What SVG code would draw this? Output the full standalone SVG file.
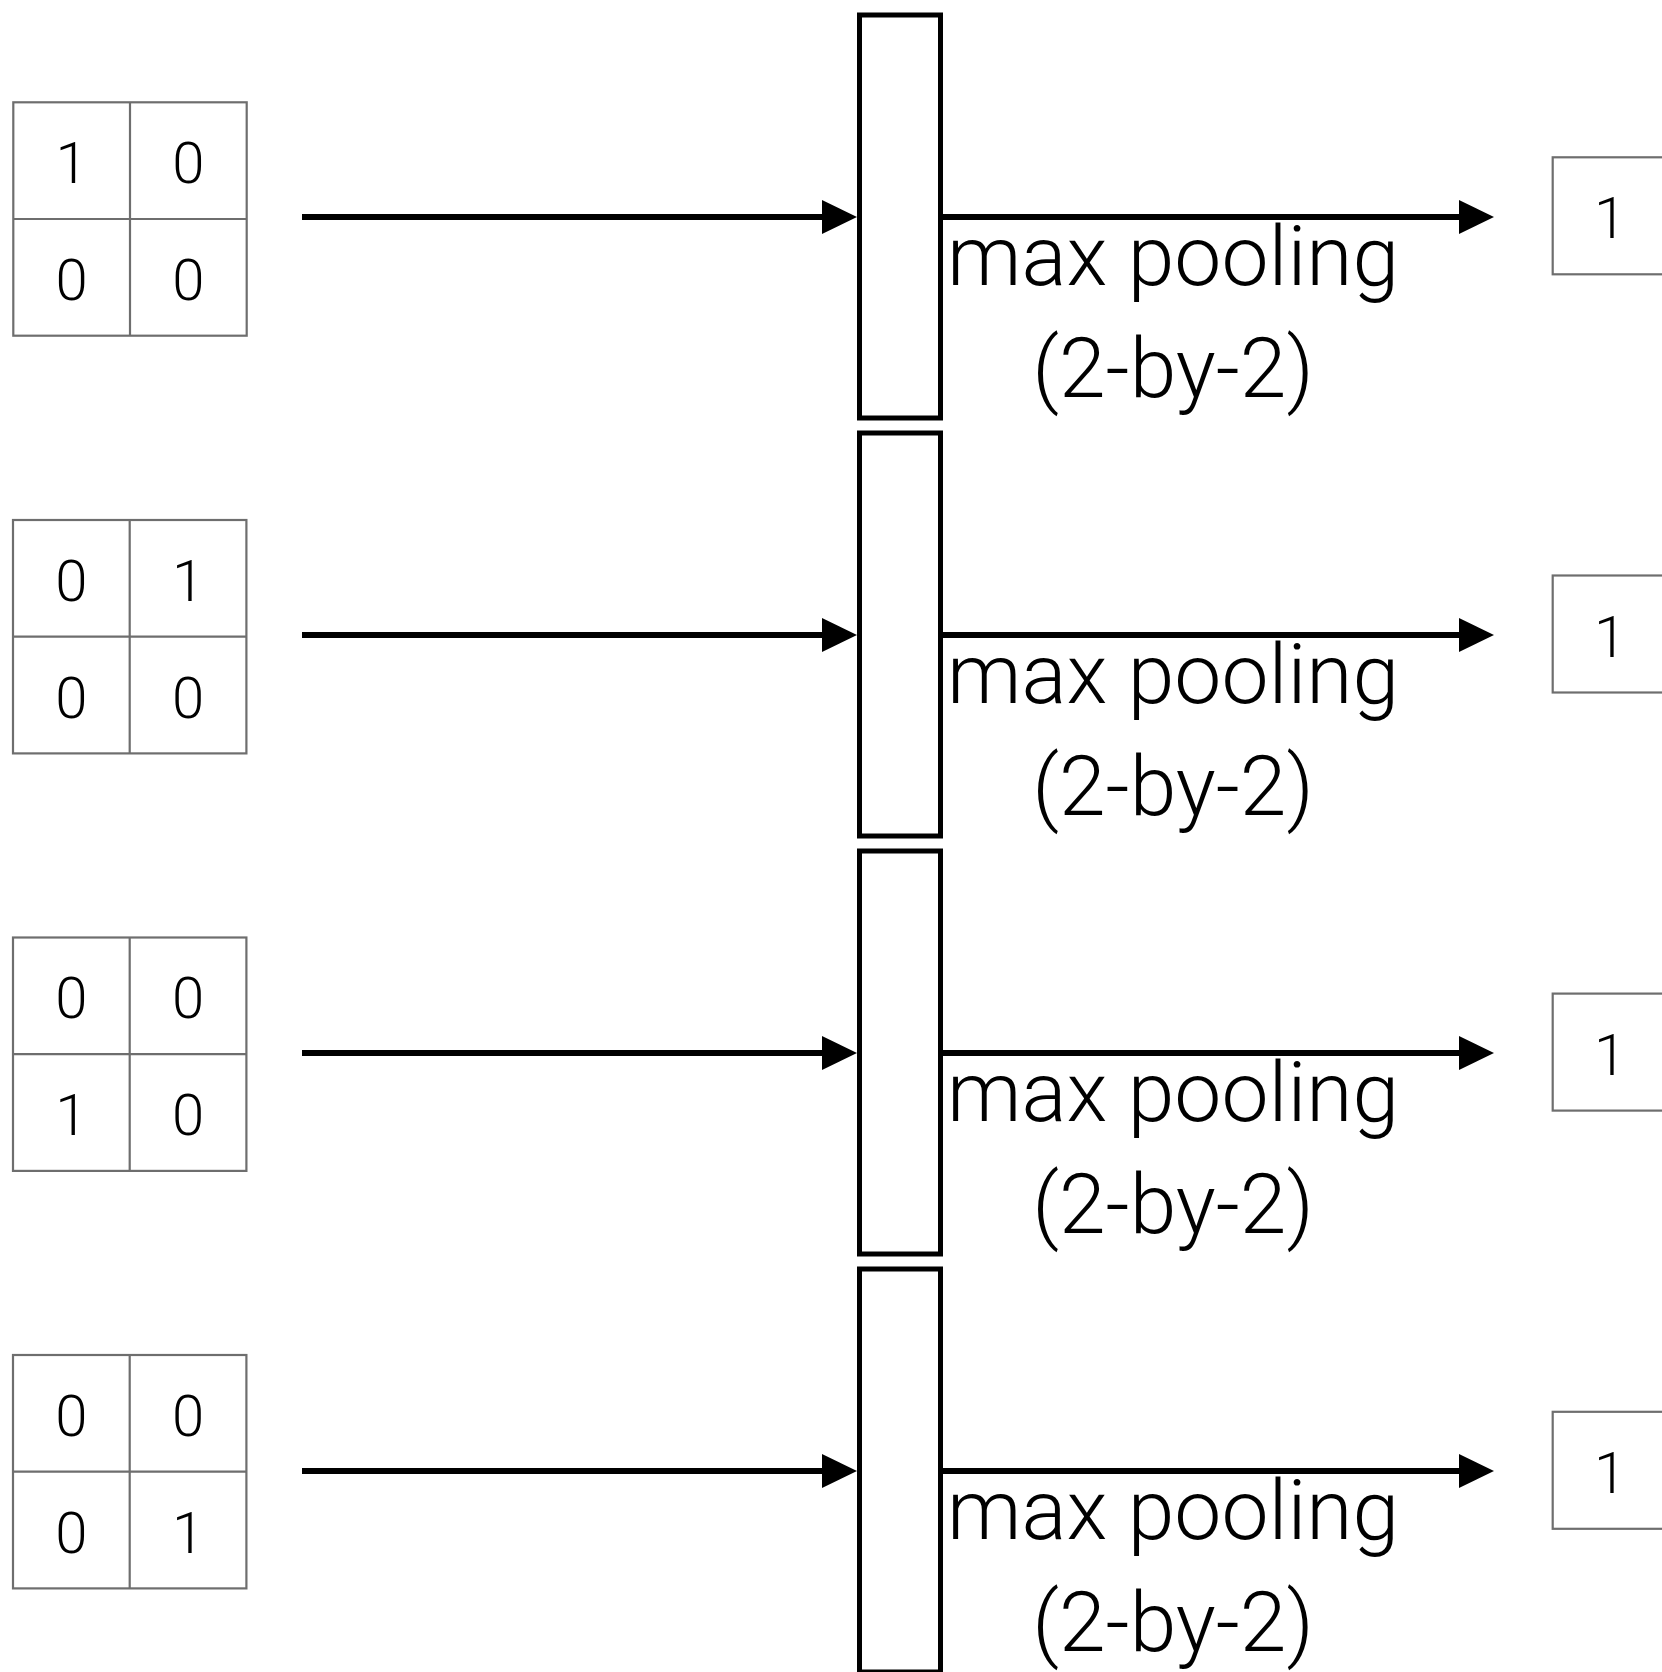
<svg xmlns="http://www.w3.org/2000/svg" width="1662" height="1672" viewBox="0 0 1662 1672">
<style>
.cell{fill:#ffffff;stroke:#6e6e6e;stroke-width:2.2}
.gl{stroke:#6e6e6e;stroke-width:2.2}
.bar{fill:#ffffff;stroke:#000000;stroke-width:5}
.arr{stroke:#000000;stroke-width:6;fill:none}
.d{font-family:"Helvetica Neue",Roboto,"Liberation Sans",sans-serif;font-weight:300;font-size:58px;fill:#000;text-anchor:middle}
.lbl{font-family:"Helvetica Neue",Roboto,"Liberation Sans",sans-serif;font-weight:300;font-size:84px;fill:#000;text-anchor:middle}
</style>
<defs>
<marker id="ah" viewBox="0 0 35 34" markerWidth="35" markerHeight="34" refX="0" refY="17" orient="auto" markerUnits="userSpaceOnUse">
<path d="M0,0 L35,17 L0,34 Z" fill="#000"/>
</marker>
</defs>
<g id="bars">
<rect id="bar1" class="bar" x="859.5" y="15" width="81" height="403"/>
<rect id="bar2" class="bar" x="859.5" y="433" width="81" height="403"/>
<rect id="bar3" class="bar" x="859.5" y="851" width="81" height="403"/>
<rect id="bar4" class="bar" x="859.5" y="1269" width="81" height="403"/>
</g>
<g id="connectors">
<line class="arr" x1="302" y1="217" x2="822" y2="217" marker-end="url(#ah)"/>
<line class="arr" x1="302" y1="635" x2="822" y2="635" marker-end="url(#ah)"/>
<line class="arr" x1="302" y1="1053" x2="822" y2="1053" marker-end="url(#ah)"/>
<line class="arr" x1="302" y1="1471" x2="822" y2="1471" marker-end="url(#ah)"/>
<line class="arr" x1="940" y1="217" x2="1459" y2="217" marker-end="url(#ah)"/>
<line class="arr" x1="940" y1="635" x2="1459" y2="635" marker-end="url(#ah)"/>
<line class="arr" x1="940" y1="1053" x2="1459" y2="1053" marker-end="url(#ah)"/>
<line class="arr" x1="940" y1="1471" x2="1459" y2="1471" marker-end="url(#ah)"/>
</g>
<g id="grid1">
<rect class="cell" x="13.3" y="102.3" width="233.4" height="233.4"/>
<line class="gl" x1="130" y1="102.3" x2="130" y2="335.7"/>
<line class="gl" x1="13.3" y1="219" x2="246.7" y2="219"/>
<text class="d" x="71.6" y="183">1</text><text class="d" x="188.3" y="183">0</text>
<text class="d" x="71.6" y="300">0</text><text class="d" x="188.3" y="300">0</text>
</g>
<g id="grid2">
<rect class="cell" x="13" y="520" width="233.4" height="233.4"/>
<line class="gl" x1="129.7" y1="520" x2="129.7" y2="753.4"/>
<line class="gl" x1="13" y1="636.7" x2="246.4" y2="636.7"/>
<text class="d" x="71.3" y="600.7">0</text><text class="d" x="188" y="600.7">1</text>
<text class="d" x="71.3" y="717.7">0</text><text class="d" x="188" y="717.7">0</text>
</g>
<g id="grid3">
<rect class="cell" x="13" y="937.5" width="233.4" height="233.4"/>
<line class="gl" x1="129.7" y1="937.5" x2="129.7" y2="1170.9"/>
<line class="gl" x1="13" y1="1054.2" x2="246.4" y2="1054.2"/>
<text class="d" x="71.3" y="1018.2">0</text><text class="d" x="188" y="1018.2">0</text>
<text class="d" x="71.3" y="1135.2">1</text><text class="d" x="188" y="1135.2">0</text>
</g>
<g id="grid4">
<rect class="cell" x="13" y="1355" width="233.4" height="233.4"/>
<line class="gl" x1="129.7" y1="1355" x2="129.7" y2="1588.4"/>
<line class="gl" x1="13" y1="1471.7" x2="246.4" y2="1471.7"/>
<text class="d" x="71.3" y="1435.7">0</text><text class="d" x="188" y="1435.7">0</text>
<text class="d" x="71.3" y="1552.7">0</text><text class="d" x="188" y="1552.7">1</text>
</g>
<g id="labels">
<text class="lbl" x="1173" y="285">max pooling</text>
<text class="lbl" x="1173" y="396.7">(2-by-2)</text>
<text class="lbl" x="1173" y="703">max pooling</text>
<text class="lbl" x="1173" y="814.7">(2-by-2)</text>
<text class="lbl" x="1173" y="1121">max pooling</text>
<text class="lbl" x="1173" y="1232.7">(2-by-2)</text>
<text class="lbl" x="1173" y="1539">max pooling</text>
<text class="lbl" x="1173" y="1650.7">(2-by-2)</text>
</g>
<g id="out1"><rect class="cell" x="1552.7" y="157.3" width="117" height="117"/><text class="d" x="1610" y="238.3">1</text></g>
<g id="out2"><rect class="cell" x="1552.7" y="575.5" width="117" height="117"/><text class="d" x="1610" y="656.5">1</text></g>
<g id="out3"><rect class="cell" x="1552.7" y="993.6" width="117" height="117"/><text class="d" x="1610" y="1074.6">1</text></g>
<g id="out4"><rect class="cell" x="1552.7" y="1411.8" width="117" height="117"/><text class="d" x="1610" y="1492.8">1</text></g>
</svg>
